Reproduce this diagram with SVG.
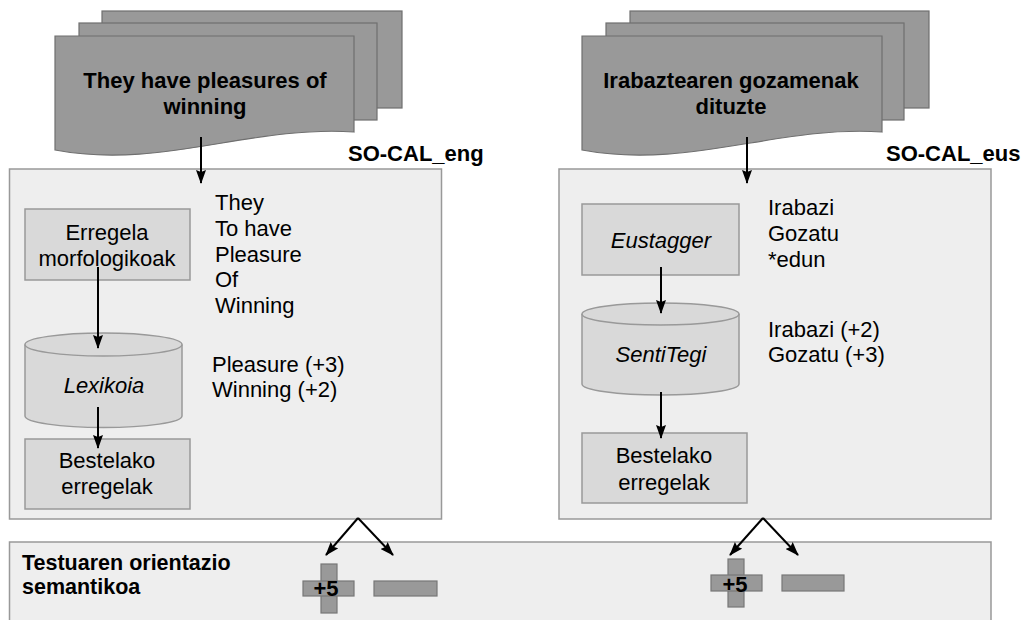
<svg xmlns="http://www.w3.org/2000/svg" width="1031" height="620" viewBox="0 0 1031 620">
<style>
text{font-family:"Liberation Sans",Arial,sans-serif;font-size:22px;fill:#000}
.b{font-weight:bold}
.i{font-style:italic}
.m{text-anchor:middle}
.sheet{fill:#999999;stroke:#6f6f6f;stroke-width:1.2}
.panel{fill:#eeeeee;stroke:#999999;stroke-width:1.5}
.inner{fill:#d9d9d9;stroke:#999999;stroke-width:1.5}
.sign{fill:#999999;stroke:#777777;stroke-width:1.2}
.conn{stroke:#000;stroke-width:2;fill:none;marker-end:url(#ah)}
</style>
<defs>
<marker id="ah" viewBox="0 0 14 10" refX="13" refY="5" markerWidth="7" markerHeight="5" markerUnits="strokeWidth" orient="auto">
<path d="M0,0 L14,5 L0,10 L2,5 z" fill="#000"/>
</marker>
</defs>
<rect width="1031" height="620" fill="#ffffff"/>

<g id="doc-eng">
<rect class="sheet" x="102" y="11" width="300" height="97"/>
<rect class="sheet" x="79" y="23" width="298" height="97"/>
<path class="sheet" d="M55,36 H354 V132 C250,125 160,170 55,150 Z"/>
<text class="b m" x="205" y="88">They have pleasures of</text>
<text class="b m" x="205" y="114">winning</text>
</g>

<g id="doc-eus">
<rect class="sheet" x="630" y="11" width="299" height="97"/>
<rect class="sheet" x="606" y="23" width="298" height="97"/>
<path class="sheet" d="M582,36 H882 V132 C778,125 688,170 582,150 Z"/>
<text class="b m" x="731" y="88">Irabaztearen gozamenak</text>
<text class="b m" x="731" y="114">dituzte</text>
</g>

<g id="label-eng"><text class="b" x="348" y="161">SO-CAL_eng</text></g>
<g id="label-eus"><text class="b" x="886" y="161">SO-CAL_eus</text></g>

<g id="panel-eng">
<rect class="panel" x="9.5" y="169" width="432" height="350"/>
</g>
<g id="panel-eus">
<rect class="panel" x="559" y="169" width="432" height="350"/>
</g>

<g id="bottom-panel">
<rect class="panel" x="9.5" y="542" width="981.5" height="90"/>
<text class="b" x="22" y="570" style="font-size:21.5px">Testuaren orientazio</text>
<text class="b" x="22" y="594" style="font-size:21.5px">semantikoa</text>
</g>

<g id="erregela-morf">
<rect class="inner" x="25" y="209" width="165" height="71"/>
<text class="m" x="107" y="240">Erregela</text>
<text class="m" x="107" y="266">morfologikoak</text>
</g>

<g id="lexikoia">
<path class="inner" d="M25,344.5 V416 A78.5,11.5 0 0 0 182,416 V344.5"/>
<ellipse class="inner" cx="103.5" cy="344.5" rx="78.5" ry="11.5"/>
<text class="i m" x="104" y="393">Lexikoia</text>
</g>

<g id="bestelako-eng">
<rect class="inner" x="25" y="439" width="165" height="70"/>
<text class="m" x="107" y="468">Bestelako</text>
<text class="m" x="107" y="494">erregelak</text>
</g>

<g id="words-eng">
<text x="215" y="210">They</text>
<text x="215" y="236">To have</text>
<text x="215" y="262">Pleasure</text>
<text x="215" y="287">Of</text>
<text x="215" y="313">Winning</text>
</g>
<g id="scores-eng">
<text x="212" y="372">Pleasure (+3)</text>
<text x="212" y="397">Winning (+2)</text>
</g>

<g id="eustagger">
<rect class="inner" x="582" y="204" width="157" height="71"/>
<text class="i m" x="661" y="248">Eustagger</text>
</g>

<g id="sentitegi">
<path class="inner" d="M582,314 V384 A78.5,11 0 0 0 739,384 V314"/>
<ellipse class="inner" cx="660.5" cy="314" rx="78.5" ry="11"/>
<text class="i m" x="661" y="362">SentiTegi</text>
</g>

<g id="bestelako-eus">
<rect class="inner" x="582" y="433" width="165" height="70"/>
<text class="m" x="664" y="463">Bestelako</text>
<text class="m" x="664" y="490">erregelak</text>
</g>

<g id="words-eus">
<text x="768" y="215">Irabazi</text>
<text x="768" y="241">Gozatu</text>
<text x="768" y="267">*edun</text>
</g>
<g id="scores-eus">
<text x="768" y="337">Irabazi (+2)</text>
<text x="768" y="362">Gozatu (+3)</text>
</g>

<g id="result-eng">
<rect class="sign" x="321" y="564" width="16" height="49"/>
<rect class="sign" x="303" y="581" width="51" height="15"/>
<rect class="sign" x="374" y="581" width="63" height="15"/>
<text class="b m" x="326" y="596">+5</text>
</g>
<g id="result-eus">
<rect class="sign" x="728" y="559" width="16" height="48"/>
<rect class="sign" x="711" y="575" width="51" height="16"/>
<rect class="sign" x="782" y="575" width="62" height="16"/>
<text class="b m" x="735" y="592">+5</text>
</g>

<g id="connectors">
<line class="conn" x1="201" y1="137" x2="201" y2="183"/>
<line class="conn" x1="747" y1="137" x2="747" y2="183"/>
<line class="conn" x1="98" y1="267" x2="98" y2="348"/>
<line class="conn" x1="98" y1="407" x2="98" y2="448"/>
<line class="conn" x1="661" y1="267" x2="661" y2="313"/>
<line class="conn" x1="661" y1="392" x2="661" y2="438"/>
<line class="conn" x1="358" y1="518" x2="326" y2="555"/>
<line class="conn" x1="358" y1="518" x2="393" y2="555"/>
<line class="conn" x1="763" y1="518" x2="730" y2="555"/>
<line class="conn" x1="763" y1="518" x2="798" y2="555"/>
</g>
</svg>
